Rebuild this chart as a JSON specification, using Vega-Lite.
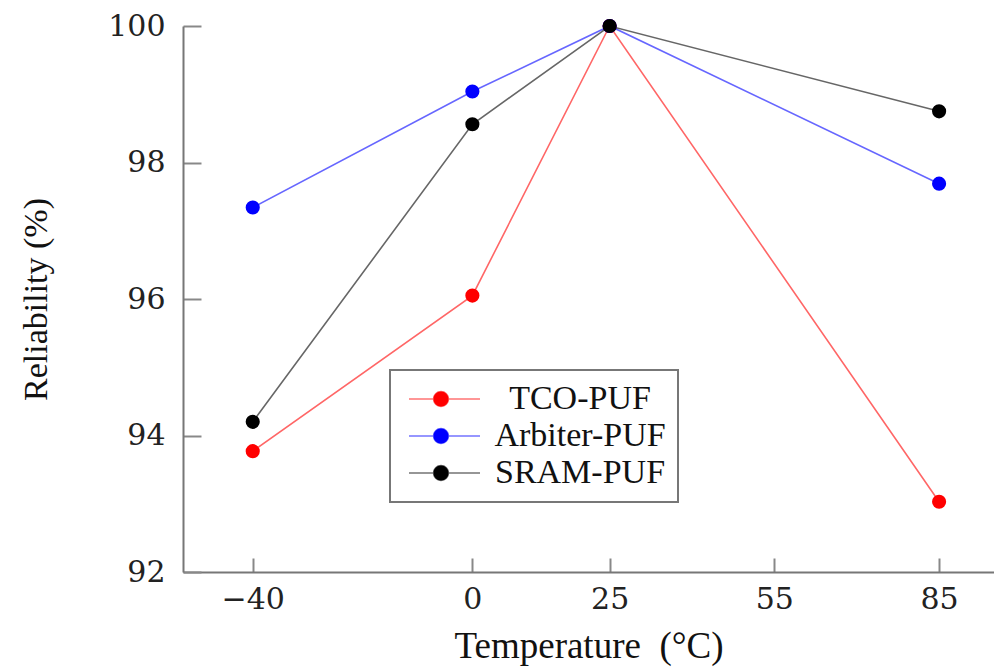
{
  "$schema": "https://vega.github.io/schema/vega-lite/v6.json",
  "autosize": "none",
  "width": 811,
  "height": 546,
  "padding": {"left": 183, "top": 26, "right": 0, "bottom": 99},
  "background": "white",
  "config": {
    "view": {"stroke": null},
    "font": "Liberation Serif",
    "axis": {
      "domainColor": "#777777",
      "domainWidth": 2,
      "tickColor": "#888888",
      "tickWidth": 2,
      "grid": false,
      "labelFont": "DejaVu Serif",
      "titleFont": "Liberation Serif",
      "labelColor": "#222222",
      "titleColor": "#111111",
      "labelFontSize": 30,
      "titleFontWeight": "normal"
    }
  },
  "data": {
    "values": [
      {"t": -40, "r": 93.77, "s": "TCO-PUF"},
      {"t": 0, "r": 96.05, "s": "TCO-PUF"},
      {"t": 25, "r": 100, "s": "TCO-PUF"},
      {"t": 85, "r": 93.03, "s": "TCO-PUF"},
      {"t": -40, "r": 97.34, "s": "Arbiter-PUF"},
      {"t": 0, "r": 99.04, "s": "Arbiter-PUF"},
      {"t": 25, "r": 100, "s": "Arbiter-PUF"},
      {"t": 85, "r": 97.69, "s": "Arbiter-PUF"},
      {"t": -40, "r": 94.2, "s": "SRAM-PUF"},
      {"t": 0, "r": 98.56, "s": "SRAM-PUF"},
      {"t": 25, "r": 100, "s": "SRAM-PUF"},
      {"t": 85, "r": 98.75, "s": "SRAM-PUF"}
    ]
  },
  "encoding": {
    "x": {
      "field": "t", "type": "quantitative",
      "scale": {"domain": [-52.7, 95], "nice": false, "zero": false},
      "axis": {
        "values": [-40, 0, 25, 55, 85],
        "tickSize": -14,
        "labelPadding": 26,
        "labelExpr": "replace(datum.label, '-', '−')",
        "title": "Temperature\u2002(°C)",
        "titleFontSize": 37,
        "titlePadding": 14
      }
    },
    "y": {
      "field": "r", "type": "quantitative",
      "scale": {"domain": [92, 100], "nice": false, "zero": false},
      "axis": {
        "values": [92, 94, 96, 98, 100],
        "tickSize": -18,
        "labelPadding": 36,
        "title": "Reliability (%)",
        "titleFontSize": 34,
        "titlePadding": 54
      }
    },
    "color": {
      "field": "s", "type": "nominal",
      "scale": {"domain": ["TCO-PUF", "Arbiter-PUF", "SRAM-PUF"], "range": ["#ff0000", "#0000ff", "#000000"]},
      "legend": {
        "title": null,
        "orient": "none",
        "legendX": 207,
        "legendY": 344,
        "padding": 12,
        "strokeColor": "#777777",
        "fillColor": "white",
        "symbolType": "M-1,0H1.45M2.95,0H6.1M1.45,0A0.75,0.75 0 1,0 2.95,0A0.75,0.75 0 1,0 1.45,0Z",
        "symbolSize": 400,
        "symbolStrokeWidth": 1.5,
        "symbolOpacity": 1,
        "labelFont": "Liberation Serif",
        "labelFontSize": 34,
        "labelColor": "#111111",
        "labelOffset": 144,
        "labelAlign": "center",
        "labelLimit": 400,
        "rowPadding": 3,
        "encode": {
          "legend": {"update": {"strokeWidth": {"value": 2}}},
          "symbols": {
            "update": {
              "fill": {"scale": "color", "field": "value"},
              "stroke": {"scale": "color", "field": "value"},
              "strokeOpacity": {"value": 0.55},
              "fillOpacity": {"value": 1}
            }
          }
        }
      }
    }
  },
  "layer": [
    {
      "mark": {"type": "line", "strokeWidth": 1.6, "opacity": 0.6, "clip": false}
    },
    {
      "mark": {"type": "point", "shape": "circle", "filled": true, "size": 200, "opacity": 1, "clip": false}
    }
  ]
}
